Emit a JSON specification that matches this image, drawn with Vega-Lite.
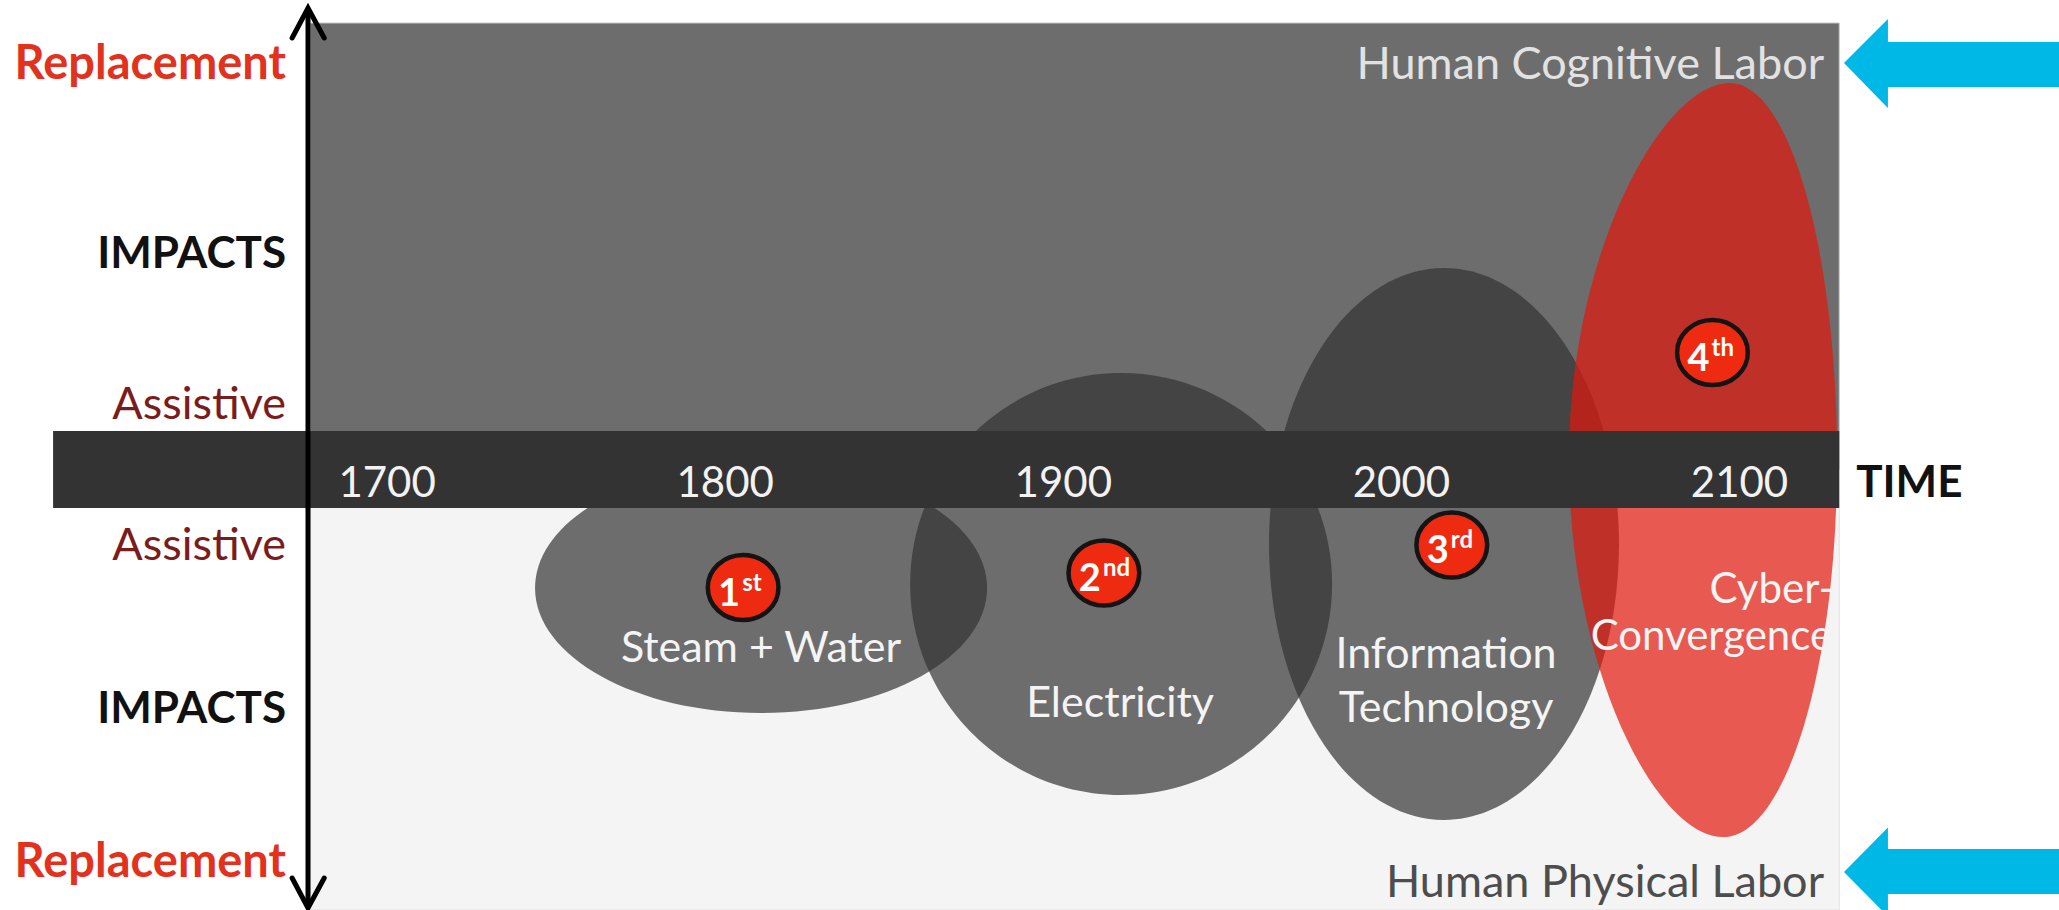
{
  "$schema": "https://vega.github.io/schema/vega-lite/v6.json",
  "width": 2059,
  "height": 910,
  "padding": 0,
  "autosize": {"type": "none"},
  "background": "#ffffff",
  "config": {"view": {"stroke": null}, "text": {"font": "Lato"}},
  "datasets": {
    "panels": [
      {"panel": "upper", "year": 1677.2, "year2": 2129.5, "impact": 0, "impact2": 4.465},
      {"panel": "lower", "year": 1677.2, "year2": 2129.5, "impact": -4.405, "impact2": 0},
      {"panel": "band", "year": 1601.2, "year2": 2129.5, "impact": -0.385, "impact2": 0.385}
    ],
    "revolutions": [
      {"era": "1st", "name": "Steam + Water", "year": 1810.6, "impact": -1.185, "span": 133.7},
      {"era": "2nd", "name": "Electricity", "year": 1917.1, "impact": -1.145, "span": 124.8},
      {"era": "3rd", "name": "Information Technology", "year": 2012.6, "impact": -0.745, "span": 103.5},
      {"era": "4th", "name": "Cyber-Convergence", "year": 2089.2, "impact": 0.095, "span": 79.3}
    ],
    "badges": [
      {"era": "1st", "num": "1", "suf": "st", "year": 1805.3, "impact": -1.18},
      {"era": "2nd", "num": "2", "suf": "nd", "year": 1912.0, "impact": -1.035},
      {"era": "3rd", "num": "3", "suf": "rd", "year": 2014.9, "impact": -0.755},
      {"era": "4th", "num": "4", "suf": "th", "year": 2092.0, "impact": 1.17}
    ],
    "ticks": [
      {"label": "1700", "year": 1700, "impact": -0.275},
      {"label": "1800", "year": 1800, "impact": -0.275},
      {"label": "1900", "year": 1900, "impact": -0.275},
      {"label": "2000", "year": 2000, "impact": -0.275},
      {"label": "2100", "year": 2100, "impact": -0.275}
    ],
    "shaft": [{"year": 1676.6, "impact": 4.615, "impact2": -4.385}],
    "chevrons": [
      {"head": "up", "seq": 1, "year": 1671.9, "impact": 4.315},
      {"head": "up", "seq": 2, "year": 1676.6, "impact": 4.615},
      {"head": "up", "seq": 3, "year": 1681.4, "impact": 4.315},
      {"head": "down", "seq": 1, "year": 1671.9, "impact": -4.085},
      {"head": "down", "seq": 2, "year": 1676.6, "impact": -4.385},
      {"head": "down", "seq": 3, "year": 1681.4, "impact": -4.085}
    ],
    "sideLabels": [
      {"label": "Replacement", "kind": "replacement", "year": 1670.1, "impact": 3.905},
      {"label": "IMPACTS", "kind": "impacts", "year": 1670.1, "impact": 2.015},
      {"label": "Assistive", "kind": "assistive", "year": 1670.1, "impact": 0.505},
      {"label": "Assistive", "kind": "assistive", "year": 1670.1, "impact": -0.905},
      {"label": "IMPACTS", "kind": "impacts", "year": 1670.1, "impact": -2.535},
      {"label": "Replacement", "kind": "replacement", "year": 1670.1, "impact": -4.075}
    ],
    "eraLabels": [
      {"label": "Steam + Water", "anchor": "center", "year": 1810.6, "impact": -1.925},
      {"label": "Electricity", "anchor": "center", "year": 1916.8, "impact": -2.475},
      {"label": "Information", "anchor": "center", "year": 2013.2, "impact": -1.985},
      {"label": "Technology", "anchor": "center", "year": 2013.2, "impact": -2.525},
      {"label": "Cyber-", "anchor": "right", "year": 2128.0, "impact": -1.335},
      {"label": "Convergence", "anchor": "right", "year": 2127.4, "impact": -1.805}
    ],
    "labor": [
      {"label": "Human Cognitive Labor", "tone": "light", "year": 2125.0, "impact": 3.905},
      {"label": "Human Physical Labor", "tone": "dark", "year": 2125.0, "impact": -4.275}
    ],
    "timeLabel": [{"label": "TIME", "year": 2134.5, "impact": -0.275}],
    "pointerHeads": [
      {"arrow": "cognitive", "year": 2130.9, "impact": 4.065, "impact2": 4.065},
      {"arrow": "cognitive", "year": 2143.9, "impact": 4.505, "impact2": 3.615},
      {"arrow": "physical", "year": 2130.9, "impact": -4.025, "impact2": -4.025},
      {"arrow": "physical", "year": 2143.9, "impact": -3.58, "impact2": -4.47}
    ],
    "pointerShafts": [
      {"arrow": "cognitive", "year": 2143.5, "year2": 2194.5, "impact": 4.275, "impact2": 3.825},
      {"arrow": "physical", "year": 2143.5, "year2": 2194.5, "impact": -3.795, "impact2": -4.245}
    ]
  },
  "encoding": {
    "x": {"field": "year", "type": "quantitative", "scale": {"domain": [1585.5, 2194.5], "nice": false, "zero": false}, "axis": null},
    "y": {"field": "impact", "type": "quantitative", "scale": {"domain": [-4.405, 4.695], "nice": false, "zero": false}, "axis": null}
  },
  "layer": [
    {
      "data": {"name": "panels"},
      "transform": [{"filter": "datum.panel === 'upper'"}],
      "mark": {"type": "rect", "color": "#6d6d6d", "stroke": "#c8c8c8", "strokeWidth": 1},
      "encoding": {"x2": {"field": "year2"}, "y2": {"field": "impact2"}}
    },
    {
      "data": {"name": "panels"},
      "transform": [{"filter": "datum.panel === 'lower'"}],
      "mark": {"type": "rect", "color": "#f4f4f4", "stroke": "#e2e2e2", "strokeWidth": 1},
      "encoding": {"x2": {"field": "year2"}, "y2": {"field": "impact2"}}
    },
    {
      "data": {"name": "revolutions"},
      "mark": {"type": "point", "filled": true, "opacity": 0.7, "strokeWidth": 0},
      "encoding": {
        "size": {"field": "span", "type": "quantitative", "scale": {"type": "pow", "exponent": 2, "domain": [0, 200], "range": [0, 457246]}, "legend": null},
        "shape": {"field": "era", "type": "nominal", "scale": {"domain": ["1st", "2nd", "3rd", "4th"], "range": [
          "M1,0C1,0.305 0.5523,0.553 0,0.553C-0.5523,0.553 -1,0.305 -1,0C-1,-0.305 -0.5523,-0.553 0,-0.553C0.5523,-0.553 1,-0.305 1,0Z",
          "M1,0C1,0.5523 0.5523,1 0,1C-0.5523,1 -1,0.5523 -1,0C-1,-0.5523 -0.5523,-1 0,-1C0.5523,-1 1,-0.5523 1,0Z",
          "M1,0C1,0.871 0.5523,1.577 0,1.577C-0.5523,1.577 -1,0.871 -1,0C-1,-0.871 -0.5523,-1.577 0,-1.577C0.5523,-1.577 1,-0.871 1,0Z",
          "M1,0C1,1.547 0.62,2.813 0.15,2.813C-0.35,2.813 -1,1.547 -1,0C-1,-1.547 -0.3,-2.813 0.2,-2.813C0.65,-2.813 1,-1.547 1,0Z"
        ]}, "legend": null},
        "color": {"field": "era", "type": "nominal", "scale": {"domain": ["1st", "2nd", "3rd", "4th"], "range": ["#333333", "#333333", "#333333", "#e3180c"]}, "legend": null}
      }
    },
    {
      "data": {"name": "panels"},
      "transform": [{"filter": "datum.panel === 'band'"}],
      "mark": {"type": "rect", "color": "#333333"},
      "encoding": {"x2": {"field": "year2"}, "y2": {"field": "impact2"}}
    },
    {
      "data": {"name": "ticks"},
      "mark": {"type": "text", "align": "center", "baseline": "alphabetic", "fontSize": 42, "color": "#f2f2f2"},
      "encoding": {"text": {"field": "label", "type": "nominal"}}
    },
    {
      "data": {"name": "shaft"},
      "mark": {"type": "rule", "color": "#000000", "strokeWidth": 5},
      "encoding": {"y2": {"field": "impact2"}}
    },
    {
      "data": {"name": "chevrons"},
      "mark": {"type": "line", "color": "#000000", "strokeWidth": 5, "strokeCap": "round", "strokeJoin": "miter"},
      "encoding": {"order": {"field": "seq", "type": "quantitative"}, "detail": {"field": "head", "type": "nominal"}}
    },
    {
      "data": {"name": "sideLabels"},
      "transform": [{"filter": "datum.kind === 'replacement'"}],
      "mark": {"type": "text", "align": "right", "baseline": "alphabetic", "fontSize": 47, "fontWeight": "bold", "color": "#e2321e"},
      "encoding": {"text": {"field": "label", "type": "nominal"}}
    },
    {
      "data": {"name": "sideLabels"},
      "transform": [{"filter": "datum.kind === 'impacts'"}],
      "mark": {"type": "text", "align": "right", "baseline": "alphabetic", "fontSize": 44, "fontWeight": "bold", "color": "#111111"},
      "encoding": {"text": {"field": "label", "type": "nominal"}}
    },
    {
      "data": {"name": "sideLabels"},
      "transform": [{"filter": "datum.kind === 'assistive'"}],
      "mark": {"type": "text", "align": "right", "baseline": "alphabetic", "fontSize": 45, "color": "#7b1c1c"},
      "encoding": {"text": {"field": "label", "type": "nominal"}}
    },
    {
      "data": {"name": "timeLabel"},
      "mark": {"type": "text", "align": "left", "baseline": "alphabetic", "fontSize": 44, "fontWeight": "bold", "color": "#111111"},
      "encoding": {"text": {"field": "label", "type": "nominal"}}
    },
    {
      "data": {"name": "labor"},
      "transform": [{"filter": "datum.tone === 'light'"}],
      "mark": {"type": "text", "align": "right", "baseline": "alphabetic", "fontSize": 45, "color": "#e2e2e2"},
      "encoding": {"text": {"field": "label", "type": "nominal"}}
    },
    {
      "data": {"name": "labor"},
      "transform": [{"filter": "datum.tone === 'dark'"}],
      "mark": {"type": "text", "align": "right", "baseline": "alphabetic", "fontSize": 45, "color": "#4d4d4d"},
      "encoding": {"text": {"field": "label", "type": "nominal"}}
    },
    {
      "data": {"name": "eraLabels"},
      "transform": [{"filter": "datum.anchor === 'center'"}],
      "mark": {"type": "text", "align": "center", "baseline": "alphabetic", "fontSize": 43, "color": "#f4f4f4"},
      "encoding": {"text": {"field": "label", "type": "nominal"}}
    },
    {
      "data": {"name": "eraLabels"},
      "transform": [{"filter": "datum.anchor === 'right'"}],
      "mark": {"type": "text", "align": "right", "baseline": "alphabetic", "fontSize": 42, "color": "#f4f4f4"},
      "encoding": {"text": {"field": "label", "type": "nominal"}}
    },
    {
      "data": {"name": "badges"},
      "mark": {"type": "point", "shape": "M1,0C1,0.508 0.5523,0.92 0,0.92C-0.5523,0.92 -1,0.508 -1,0C-1,-0.508 -0.5523,-0.92 0,-0.92C0.5523,-0.92 1,-0.508 1,0Z", "filled": true, "size": 5000, "color": "#ee2b10", "stroke": "#141414", "strokeWidth": 4.5, "opacity": 1}
    },
    {
      "data": {"name": "badges"},
      "mark": {"type": "text", "align": "right", "baseline": "alphabetic", "dx": -3, "dy": 18, "fontSize": 38, "fontWeight": "bold", "color": "#ffffff"},
      "encoding": {"text": {"field": "num", "type": "nominal"}}
    },
    {
      "data": {"name": "badges"},
      "mark": {"type": "text", "align": "left", "baseline": "alphabetic", "dx": -1, "dy": 3, "fontSize": 24, "fontWeight": "bold", "color": "#ffffff"},
      "encoding": {"text": {"field": "suf", "type": "nominal"}}
    },
    {
      "data": {"name": "pointerHeads"},
      "mark": {"type": "area", "color": "#00b8e6", "opacity": 1, "interpolate": "linear"},
      "encoding": {"y2": {"field": "impact2"}, "detail": {"field": "arrow", "type": "nominal"}}
    },
    {
      "data": {"name": "pointerShafts"},
      "mark": {"type": "rect", "color": "#00b8e6"},
      "encoding": {"x2": {"field": "year2"}, "y2": {"field": "impact2"}}
    }
  ]
}
